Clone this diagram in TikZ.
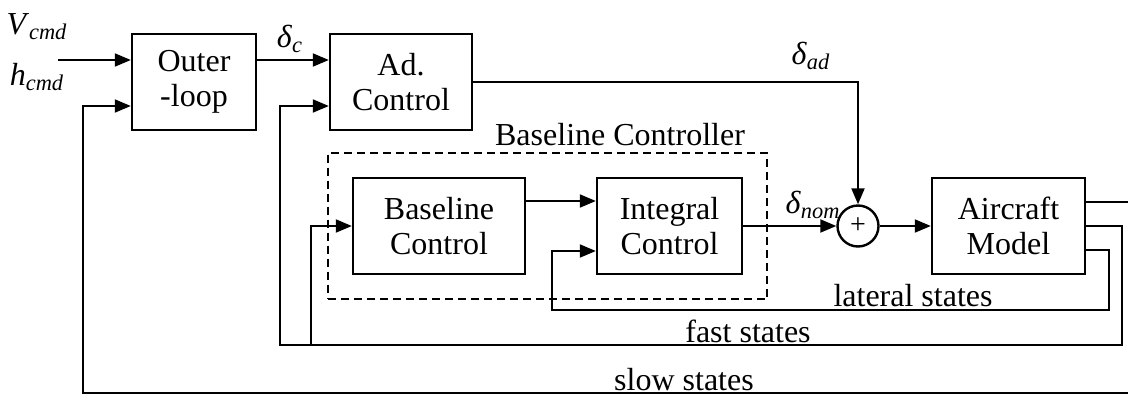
\documentclass[tikz,border=0pt]{standalone}
\usepackage{fontspec}
\setmainfont{Liberation Serif}
\usetikzlibrary{arrows.meta,fit}

% italic signal name with italic subscript
\newcommand{\sig}[2]{\textit{#1}\textsubscript{\textit{#2}}}

\begin{document}
\begin{tikzpicture}[x=0.5pt,y=0.5pt,yscale=-1,xscale=1,line width=1pt,
  font=\fontsize{16}{17.5}\selectfont,
  block/.style={draw,line width=1.2pt,minimum height=48pt,align=center,inner sep=0pt},
  sumnode/.style={draw,circle,line width=1.2pt,minimum size=20.5pt,inner sep=0pt},
  dashbox/.style={draw,dash pattern=on 4pt off 2.5pt,line width=0.9pt,inner sep=12pt},
  arr/.style={-{Triangle[length=8pt,width=6.5pt]}}]
\useasboundingbox (0,0) rectangle (1128,396);

%Blocks
\node[block,minimum width=62pt] (outer) at (194,82) {Outer\\-loop};
\node[block,minimum width=71pt] (adc) at (401,82) {Ad.\\Control};
\node[block,minimum width=86pt] (base) at (439,226) {Baseline\\Control};
\node[block,minimum width=72.5pt] (integ) at (669.5,226) {Integral\\Control};
\node[sumnode,font=\fontsize{14}{14}\selectfont] (sum) at (858,226) {+};
\node[block,minimum width=76.5pt] (plant) at (1008.5,226) {Aircraft\\Model};
\node[dashbox,fit=(base)(integ)] (bc) {};

%Free line ends
\coordinate (vin) at (58,60);
\coordinate (plantR) at (1128,202);
\coordinate (slowR) at (1128,393);
\coordinate (slowL) at (83,393);
\coordinate (fastR) at (1122,345);
\coordinate (fastL) at (280,345);
\coordinate (fastB) at (311,345);
\coordinate (latR) at (1109,310);
\coordinate (latL) at (552,310);

%Forward path (yshift follows yscale=-1, so negative is up)
\draw[arr] (vin) -- (vin -| outer.west);
\draw[arr] ([yshift=-11pt]outer.east) -- ([yshift=-11pt]adc.west);
\draw[arr] (adc.east) -| (sum.north);
\draw[arr] ([yshift=-12.5pt]base.east) -- ([yshift=-12.5pt]integ.west);
\draw[arr] (integ.east) -- (sum.west);
\draw[arr] (sum.east) -- (plant.west);

%Feedback paths
\draw ([yshift=-12pt]plant.east) -- (plantR);
\draw[arr] (slowR) -- (slowL) |- ([yshift=12pt]outer.west);
\draw[arr] (plant.east) -| (fastR) -- (fastL) |- ([yshift=12pt]adc.west);
\draw[arr] (fastB) |- (base.west);
\draw[arr] ([yshift=12pt]plant.east) -| (latR) -- (latL) |- ([yshift=12.5pt]integ.west);

% Text Node
\node (vcmd) at (37,27) {\sig{V}{cmd}};
\node (hcmd) at (37,77) {\sig{h}{cmd}};
\node (dc) at (290,39) {\sig{δ}{c}};
\node (dad) at (811,56) {\sig{δ}{ad}};
\node (dnom) at (813,205) {\sig{δ}{nom}};
\node (bclabel) at (620,135) {Baseline Controller};
\node (latlbl) at (913,296) {lateral states};
\node (fastlbl) at (748,331) {fast states};
\node (slowlbl) at (684,380) {slow states};

\end{tikzpicture}
\end{document}
